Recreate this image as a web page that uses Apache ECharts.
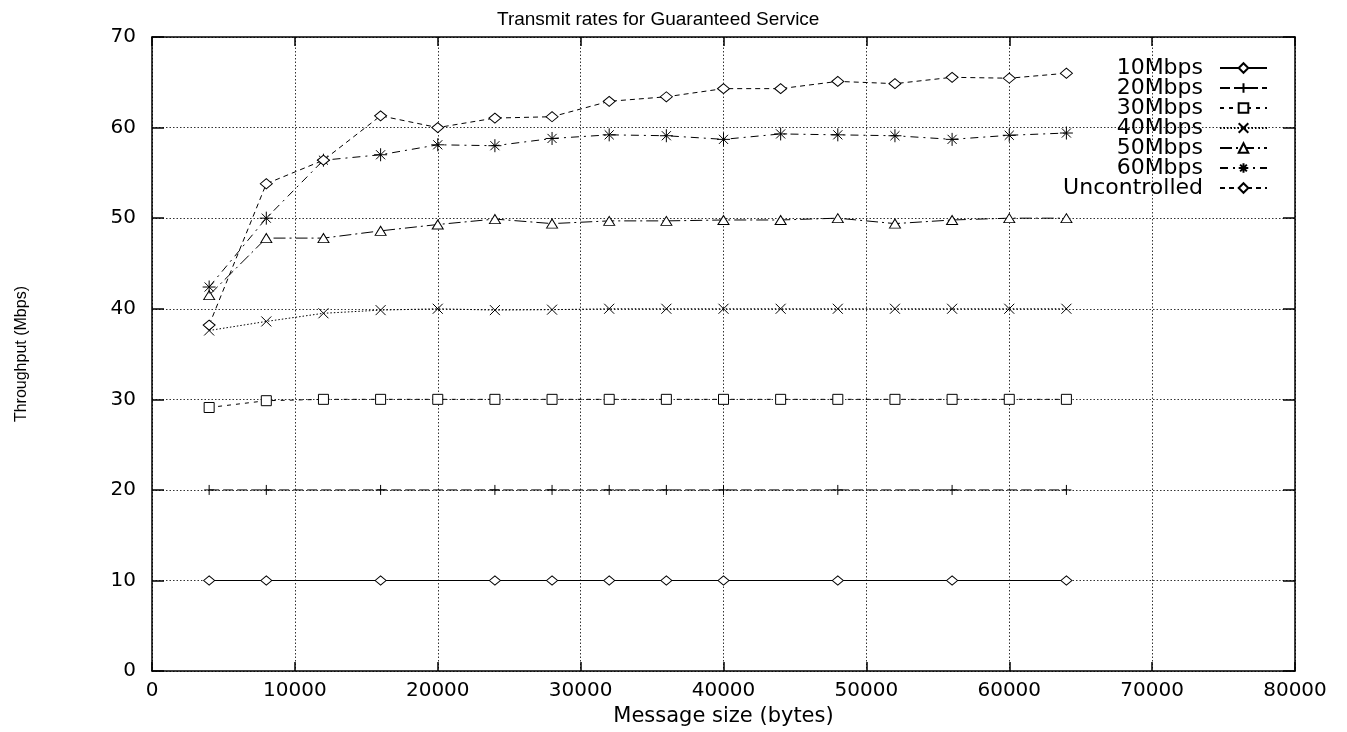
<!DOCTYPE html>
<html>
<head>
<meta charset="utf-8">
<title>Transmit rates for Guaranteed Service</title>
<script src="https://cdn.jsdelivr.net/npm/echarts@6/dist/echarts.min.js"></script>
<style>
  html, body { margin: 0; padding: 0; background: #fff; }
  #chart { width: 1347px; height: 732px; }
</style>
</head>
<body>
<div id="chart"></div>
<script>
// Message sizes (bytes) measured for most series
const messageSizes = [4000, 8000, 12000, 16000, 20000, 24000, 28000, 32000,
                      36000, 40000, 44000, 48000, 52000, 56000, 60000, 64000];
// The 10 and 20 Mbps runs have fewer sizes
const lowRateSizes = [4000, 8000, 16000, 24000, 28000, 32000, 36000, 40000, 48000, 56000, 64000];

// Throughput (Mbps)
const rate10 = [10, 10, 10, 10, 10, 10, 10, 10, 10, 10, 10];
const rate20 = [20, 20, 20, 20, 20, 20, 20, 20, 20, 20, 20];
const rate30 = [29.1, 29.85, 30, 30, 30, 30, 30, 30, 30, 30, 30, 30, 30, 30, 30, 30];
const rate40 = [37.6, 38.6, 39.5, 39.85, 40, 39.85, 39.9, 40, 40, 40, 40, 40, 40, 40, 40, 40];
const rate50 = [41.5, 47.8, 47.8, 48.6, 49.3, 49.9, 49.4, 49.7, 49.7, 49.8, 49.8, 50.0, 49.4, 49.8, 50.0, 50.0];
const rate60 = [42.4, 50.0, 56.4, 57.0, 58.1, 58.0, 58.8, 59.2, 59.1, 58.7, 59.3, 59.2, 59.1, 58.7, 59.15, 59.4];
const uncontrolled = [38.2, 53.8, 56.4, 61.3, 60.0, 61.05, 61.2, 62.9, 63.4, 64.3, 64.3, 65.1, 64.85, 65.55, 65.45, 66.0];

const seriesNames = ['10Mbps', '20Mbps', '30Mbps', '40Mbps', '50Mbps', '60Mbps', 'Uncontrolled'];

const xTicks = { min: 0, max: 80000, interval: 10000 };
const yTicks = { min: 0, max: 70, interval: 10 };

// Point shapes in the style of a classic plotting program
const SYM = {
  diamond: 'path://M0,5 L6,0 L12,5 L6,10 Z',
  plus: 'path://M0,5 L10,5 M5,0 L5,10',
  square: 'path://M0,0 L10,0 L10,10 L0,10 Z',
  cross: 'path://M0,0 L10,10 M10,0 L0,10',
  triangle: 'path://M0,9 L5.5,0 L11,9 Z',
  star: 'path://M0,6 L12,6 M6,0 L6,12 M1.8,1.8 L10.2,10.2 M10.2,1.8 L1.8,10.2'
};

function pairs(xs, ys) {
  return xs.map((x, i) => [x, ys[i]]);
}

function makeSeries(name, data, symbol, size, dash) {
  return {
    name: name,
    type: 'line',
    data: data,
    symbol: symbol,
    symbolSize: size,
    showAllSymbol: true,
    color: '#000',
    lineStyle: { color: '#000', width: 1, type: dash },
    itemStyle: { color: '#fff', borderColor: '#000', borderWidth: 1 },
    emphasis: { disabled: true },
    animation: false,
    z: 3
  };
}

const series = [
  makeSeries(seriesNames[0], pairs(lowRateSizes, rate10), SYM.diamond, [11, 9], 'solid'),
  makeSeries(seriesNames[1], pairs(lowRateSizes, rate20), SYM.plus, [10, 10], [10, 4]),
  makeSeries(seriesNames[2], pairs(messageSizes, rate30), SYM.square, [10, 10], [4, 5]),
  makeSeries(seriesNames[3], pairs(messageSizes, rate40), SYM.cross, [10, 10], [1.5, 2]),
  makeSeries(seriesNames[4], pairs(messageSizes, rate50), SYM.triangle, [11, 9], [12, 4, 2, 4]),
  makeSeries(seriesNames[5], pairs(messageSizes, rate60), SYM.star, [13, 13], [8, 5, 2, 5]),
  makeSeries(seriesNames[6], pairs(messageSizes, uncontrolled), SYM.diamond, [12, 10], [5, 4])
];

const tickFont = { fontFamily: 'DejaVu Sans', fontSize: 20, color: '#000' };
const frameLine = { show: true, onZero: false, lineStyle: { color: '#000', width: 1.5 } };
const gridDots = { show: true, lineStyle: { color: '#333', width: 1, type: [1.5, 2] } };

const chart = echarts.init(document.getElementById('chart'), null, { renderer: 'canvas' });
chart.setOption({
  animation: false,
  backgroundColor: '#fff',
  title: {
    text: 'Transmit rates for Guaranteed Service',
    left: 497,
    top: 5,
    padding: [5, 0, 5, 0],
    textStyle: { fontFamily: 'Liberation Sans', fontSize: 19, fontWeight: 'normal', color: '#000' }
  },
  grid: { left: 152, right: 52, top: 37, bottom: 55, containLabel: false },
  legend: {
    data: seriesNames,
    orient: 'vertical',
    align: 'right',
    right: 79,
    top: 57,
    padding: 0,
    itemWidth: 47,
    itemHeight: 12,
    itemGap: -2,
    selectedMode: false,
    textStyle: {
      fontFamily: 'DejaVu Sans', fontSize: 22, color: '#000',
      lineHeight: 20, padding: [0, 12, 0, 0]
    }
  },
  xAxis: [
    {
      type: 'value',
      position: 'bottom',
      min: xTicks.min, max: xTicks.max, interval: xTicks.interval,
      name: 'Message size (bytes)',
      nameLocation: 'middle',
      nameGap: 31,
      nameTextStyle: { fontFamily: 'DejaVu Sans', fontSize: 21, color: '#000' },
      axisLine: frameLine,
      axisTick: { show: true, inside: true, length: 9, lineStyle: { color: '#000', width: 1.5 } },
      axisLabel: Object.assign({ margin: 10, formatter: v => String(v) }, tickFont),
      splitLine: gridDots
    },
    {
      type: 'value',
      position: 'top',
      min: xTicks.min, max: xTicks.max, interval: xTicks.interval,
      axisLine: frameLine,
      axisTick: { show: true, inside: true, length: 9, lineStyle: { color: '#000', width: 1.5 } },
      axisLabel: { show: false },
      splitLine: { show: false }
    }
  ],
  yAxis: [
    {
      type: 'value',
      position: 'left',
      min: yTicks.min, max: yTicks.max, interval: yTicks.interval,
      name: 'Throughput (Mbps)',
      nameLocation: 'middle',
      nameGap: 122,
      nameTextStyle: { fontFamily: 'Liberation Sans', fontSize: 16, color: '#000' },
      axisLine: frameLine,
      axisTick: { show: true, inside: true, length: 12, lineStyle: { color: '#000', width: 1.5 } },
      axisLabel: Object.assign({ margin: 16, formatter: v => String(v) }, tickFont),
      splitLine: gridDots
    },
    {
      type: 'value',
      position: 'right',
      min: yTicks.min, max: yTicks.max, interval: yTicks.interval,
      axisLine: frameLine,
      axisTick: { show: true, inside: true, length: 12, lineStyle: { color: '#000', width: 1.5 } },
      axisLabel: { show: false },
      splitLine: { show: false }
    }
  ],
  series: series
});
</script>
</body>
</html>
